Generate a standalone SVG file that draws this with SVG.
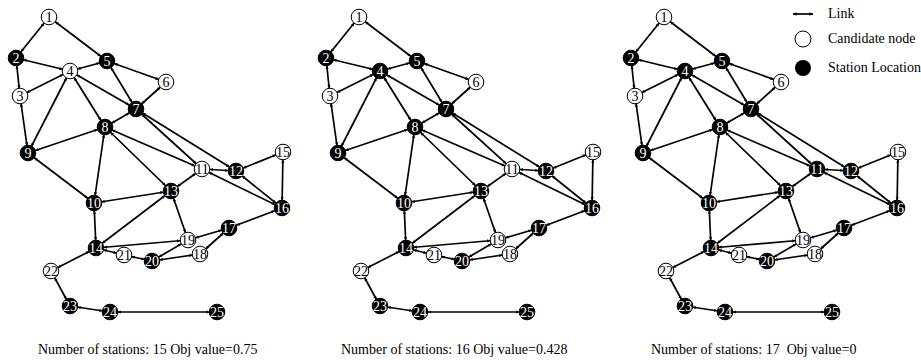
<svg xmlns="http://www.w3.org/2000/svg" width="921" height="360" viewBox="0 0 921 360">
<style>
text{font-family:"Liberation Serif","Times New Roman",serif}
.e line{stroke:#000;stroke-width:1.7;marker-start:url(#ah);marker-end:url(#ah)}
.n text{font-size:14px;text-anchor:middle}
.w circle{fill:#fff;stroke:#000;stroke-width:1}
.w text{fill:#000}
.b circle{fill:#000;stroke:#000;stroke-width:1}
.b text{fill:#fff}
.cap{font-size:14px;fill:#000;white-space:pre}
.leg{font-size:14px;fill:#000}
</style>
<defs>
<marker id="ah" markerUnits="userSpaceOnUse" orient="auto-start-reverse" refX="7.8" refY="0" markerWidth="10" markerHeight="10" overflow="visible"><path d="M-3,-1.6 L0,0 L-3,1.6 z" fill="#000"/></marker>
<marker id="lt" markerUnits="userSpaceOnUse" orient="auto-start-reverse" refX="0" refY="0" markerWidth="10" markerHeight="10" overflow="visible"><path d="M-3.5,-1.8 L0,0 L-3.5,1.8 z" fill="#000"/></marker>
</defs>

<g id="graph1">
<g id="g1-connectors" class="e">
<line x1="49" y1="17" x2="16" y2="58"/><line x1="49" y1="17" x2="107" y2="61"/><line x1="16" y1="58" x2="70" y2="71"/><line x1="16" y1="58" x2="20" y2="96"/><line x1="70" y1="71" x2="107" y2="61"/><line x1="70" y1="71" x2="20" y2="96"/><line x1="70" y1="71" x2="28" y2="153"/><line x1="70" y1="71" x2="105" y2="127"/><line x1="70" y1="71" x2="136" y2="109"/><line x1="107" y1="61" x2="136" y2="109"/><line x1="107" y1="61" x2="166" y2="82"/><line x1="166" y1="82" x2="136" y2="109"/><line x1="20" y1="96" x2="28" y2="153"/><line x1="136" y1="109" x2="105" y2="127"/><line x1="105" y1="127" x2="28" y2="153"/><line x1="136" y1="109" x2="202" y2="169"/><line x1="136" y1="109" x2="236" y2="171"/><line x1="105" y1="127" x2="202" y2="169"/><line x1="105" y1="127" x2="171" y2="191"/><line x1="105" y1="127" x2="94" y2="203"/><line x1="28" y1="153" x2="94" y2="203"/><line x1="202" y1="169" x2="236" y2="171"/><line x1="202" y1="169" x2="171" y2="191"/><line x1="202" y1="169" x2="282" y2="208"/><line x1="236" y1="171" x2="283" y2="152"/><line x1="236" y1="171" x2="282" y2="208"/><line x1="283" y1="152" x2="282" y2="208"/><line x1="94" y1="203" x2="171" y2="191"/><line x1="94" y1="203" x2="96" y2="248"/><line x1="171" y1="191" x2="96" y2="248"/><line x1="171" y1="191" x2="188" y2="240"/><line x1="282" y1="208" x2="229" y2="228"/><line x1="229" y1="228" x2="188" y2="240"/><line x1="229" y1="228" x2="200" y2="254"/><line x1="96" y1="248" x2="188" y2="240"/><line x1="96" y1="248" x2="124" y2="255"/><line x1="124" y1="255" x2="152" y2="261"/><line x1="152" y1="261" x2="188" y2="240"/><line x1="152" y1="261" x2="200" y2="254"/><line x1="96" y1="248" x2="51" y2="271"/><line x1="51" y1="271" x2="70" y2="306"/><line x1="70" y1="306" x2="110" y2="312"/><line x1="110" y1="312" x2="217" y2="312"/>
</g>
<g id="g1-n1" class="n w"><circle cx="49" cy="17" r="7.8"/><text x="49" y="22">1</text></g>
<g id="g1-n2" class="n b"><circle cx="16" cy="58" r="7.8"/><text x="16" y="63">2</text></g>
<g id="g1-n3" class="n w"><circle cx="20" cy="96" r="7.8"/><text x="20" y="101">3</text></g>
<g id="g1-n4" class="n w"><circle cx="70" cy="71" r="7.8"/><text x="70" y="76">4</text></g>
<g id="g1-n5" class="n b"><circle cx="107" cy="61" r="7.8"/><text x="107" y="66">5</text></g>
<g id="g1-n6" class="n w"><circle cx="166" cy="82" r="7.8"/><text x="166" y="87">6</text></g>
<g id="g1-n7" class="n b"><circle cx="136" cy="109" r="7.8"/><text x="136" y="114">7</text></g>
<g id="g1-n8" class="n b"><circle cx="105" cy="127" r="7.8"/><text x="105" y="132">8</text></g>
<g id="g1-n9" class="n b"><circle cx="28" cy="153" r="7.8"/><text x="28" y="158">9</text></g>
<g id="g1-n10" class="n b"><circle cx="94" cy="203" r="7.8"/><text x="94" y="208">10</text></g>
<g id="g1-n11" class="n w"><circle cx="202" cy="169" r="7.8"/><text x="202" y="174">11</text></g>
<g id="g1-n12" class="n b"><circle cx="236" cy="171" r="7.8"/><text x="236" y="176">12</text></g>
<g id="g1-n13" class="n b"><circle cx="171" cy="191" r="7.8"/><text x="171" y="196">13</text></g>
<g id="g1-n14" class="n b"><circle cx="96" cy="248" r="7.8"/><text x="96" y="253">14</text></g>
<g id="g1-n15" class="n w"><circle cx="283" cy="152" r="7.8"/><text x="283" y="157">15</text></g>
<g id="g1-n16" class="n b"><circle cx="282" cy="208" r="7.8"/><text x="282" y="213">16</text></g>
<g id="g1-n17" class="n b"><circle cx="229" cy="228" r="7.8"/><text x="229" y="233">17</text></g>
<g id="g1-n18" class="n w"><circle cx="200" cy="254" r="7.8"/><text x="200" y="259">18</text></g>
<g id="g1-n19" class="n w"><circle cx="188" cy="240" r="7.8"/><text x="188" y="245">19</text></g>
<g id="g1-n20" class="n b"><circle cx="152" cy="261" r="7.8"/><text x="152" y="266">20</text></g>
<g id="g1-n21" class="n w"><circle cx="124" cy="255" r="7.8"/><text x="124" y="260">21</text></g>
<g id="g1-n22" class="n w"><circle cx="51" cy="271" r="7.8"/><text x="51" y="276">22</text></g>
<g id="g1-n23" class="n b"><circle cx="70" cy="306" r="7.8"/><text x="70" y="311">23</text></g>
<g id="g1-n24" class="n b"><circle cx="110" cy="312" r="7.8"/><text x="110" y="317">24</text></g>
<g id="g1-n25" class="n b"><circle cx="217" cy="312" r="7.8"/><text x="217" y="317">25</text></g>
</g>

<g id="graph2" transform="translate(310,0)">
<g id="g2-connectors" class="e">
<line x1="49" y1="17" x2="16" y2="58"/><line x1="49" y1="17" x2="107" y2="61"/><line x1="16" y1="58" x2="70" y2="71"/><line x1="16" y1="58" x2="20" y2="96"/><line x1="70" y1="71" x2="107" y2="61"/><line x1="70" y1="71" x2="20" y2="96"/><line x1="70" y1="71" x2="28" y2="153"/><line x1="70" y1="71" x2="105" y2="127"/><line x1="70" y1="71" x2="136" y2="109"/><line x1="107" y1="61" x2="136" y2="109"/><line x1="107" y1="61" x2="166" y2="82"/><line x1="166" y1="82" x2="136" y2="109"/><line x1="20" y1="96" x2="28" y2="153"/><line x1="136" y1="109" x2="105" y2="127"/><line x1="105" y1="127" x2="28" y2="153"/><line x1="136" y1="109" x2="202" y2="169"/><line x1="136" y1="109" x2="236" y2="171"/><line x1="105" y1="127" x2="202" y2="169"/><line x1="105" y1="127" x2="171" y2="191"/><line x1="105" y1="127" x2="94" y2="203"/><line x1="28" y1="153" x2="94" y2="203"/><line x1="202" y1="169" x2="236" y2="171"/><line x1="202" y1="169" x2="171" y2="191"/><line x1="202" y1="169" x2="282" y2="208"/><line x1="236" y1="171" x2="283" y2="152"/><line x1="236" y1="171" x2="282" y2="208"/><line x1="283" y1="152" x2="282" y2="208"/><line x1="94" y1="203" x2="171" y2="191"/><line x1="94" y1="203" x2="96" y2="248"/><line x1="171" y1="191" x2="96" y2="248"/><line x1="171" y1="191" x2="188" y2="240"/><line x1="282" y1="208" x2="229" y2="228"/><line x1="229" y1="228" x2="188" y2="240"/><line x1="229" y1="228" x2="200" y2="254"/><line x1="96" y1="248" x2="188" y2="240"/><line x1="96" y1="248" x2="124" y2="255"/><line x1="124" y1="255" x2="152" y2="261"/><line x1="152" y1="261" x2="188" y2="240"/><line x1="152" y1="261" x2="200" y2="254"/><line x1="96" y1="248" x2="51" y2="271"/><line x1="51" y1="271" x2="70" y2="306"/><line x1="70" y1="306" x2="110" y2="312"/><line x1="110" y1="312" x2="217" y2="312"/>
</g>
<g id="g2-n1" class="n w"><circle cx="49" cy="17" r="7.8"/><text x="49" y="22">1</text></g>
<g id="g2-n2" class="n b"><circle cx="16" cy="58" r="7.8"/><text x="16" y="63">2</text></g>
<g id="g2-n3" class="n w"><circle cx="20" cy="96" r="7.8"/><text x="20" y="101">3</text></g>
<g id="g2-n4" class="n b"><circle cx="70" cy="71" r="7.8"/><text x="70" y="76">4</text></g>
<g id="g2-n5" class="n b"><circle cx="107" cy="61" r="7.8"/><text x="107" y="66">5</text></g>
<g id="g2-n6" class="n w"><circle cx="166" cy="82" r="7.8"/><text x="166" y="87">6</text></g>
<g id="g2-n7" class="n b"><circle cx="136" cy="109" r="7.8"/><text x="136" y="114">7</text></g>
<g id="g2-n8" class="n b"><circle cx="105" cy="127" r="7.8"/><text x="105" y="132">8</text></g>
<g id="g2-n9" class="n b"><circle cx="28" cy="153" r="7.8"/><text x="28" y="158">9</text></g>
<g id="g2-n10" class="n b"><circle cx="94" cy="203" r="7.8"/><text x="94" y="208">10</text></g>
<g id="g2-n11" class="n w"><circle cx="202" cy="169" r="7.8"/><text x="202" y="174">11</text></g>
<g id="g2-n12" class="n b"><circle cx="236" cy="171" r="7.8"/><text x="236" y="176">12</text></g>
<g id="g2-n13" class="n b"><circle cx="171" cy="191" r="7.8"/><text x="171" y="196">13</text></g>
<g id="g2-n14" class="n b"><circle cx="96" cy="248" r="7.8"/><text x="96" y="253">14</text></g>
<g id="g2-n15" class="n w"><circle cx="283" cy="152" r="7.8"/><text x="283" y="157">15</text></g>
<g id="g2-n16" class="n b"><circle cx="282" cy="208" r="7.8"/><text x="282" y="213">16</text></g>
<g id="g2-n17" class="n b"><circle cx="229" cy="228" r="7.8"/><text x="229" y="233">17</text></g>
<g id="g2-n18" class="n w"><circle cx="200" cy="254" r="7.8"/><text x="200" y="259">18</text></g>
<g id="g2-n19" class="n w"><circle cx="188" cy="240" r="7.8"/><text x="188" y="245">19</text></g>
<g id="g2-n20" class="n b"><circle cx="152" cy="261" r="7.8"/><text x="152" y="266">20</text></g>
<g id="g2-n21" class="n w"><circle cx="124" cy="255" r="7.8"/><text x="124" y="260">21</text></g>
<g id="g2-n22" class="n w"><circle cx="51" cy="271" r="7.8"/><text x="51" y="276">22</text></g>
<g id="g2-n23" class="n b"><circle cx="70" cy="306" r="7.8"/><text x="70" y="311">23</text></g>
<g id="g2-n24" class="n b"><circle cx="110" cy="312" r="7.8"/><text x="110" y="317">24</text></g>
<g id="g2-n25" class="n b"><circle cx="217" cy="312" r="7.8"/><text x="217" y="317">25</text></g>
</g>

<g id="graph3" transform="translate(615,0)">
<g id="g3-connectors" class="e">
<line x1="49" y1="17" x2="16" y2="58"/><line x1="49" y1="17" x2="107" y2="61"/><line x1="16" y1="58" x2="70" y2="71"/><line x1="16" y1="58" x2="20" y2="96"/><line x1="70" y1="71" x2="107" y2="61"/><line x1="70" y1="71" x2="20" y2="96"/><line x1="70" y1="71" x2="28" y2="153"/><line x1="70" y1="71" x2="105" y2="127"/><line x1="70" y1="71" x2="136" y2="109"/><line x1="107" y1="61" x2="136" y2="109"/><line x1="107" y1="61" x2="166" y2="82"/><line x1="166" y1="82" x2="136" y2="109"/><line x1="20" y1="96" x2="28" y2="153"/><line x1="136" y1="109" x2="105" y2="127"/><line x1="105" y1="127" x2="28" y2="153"/><line x1="136" y1="109" x2="202" y2="169"/><line x1="136" y1="109" x2="236" y2="171"/><line x1="105" y1="127" x2="202" y2="169"/><line x1="105" y1="127" x2="171" y2="191"/><line x1="105" y1="127" x2="94" y2="203"/><line x1="28" y1="153" x2="94" y2="203"/><line x1="202" y1="169" x2="236" y2="171"/><line x1="202" y1="169" x2="171" y2="191"/><line x1="202" y1="169" x2="282" y2="208"/><line x1="236" y1="171" x2="283" y2="152"/><line x1="236" y1="171" x2="282" y2="208"/><line x1="283" y1="152" x2="282" y2="208"/><line x1="94" y1="203" x2="171" y2="191"/><line x1="94" y1="203" x2="96" y2="248"/><line x1="171" y1="191" x2="96" y2="248"/><line x1="171" y1="191" x2="188" y2="240"/><line x1="282" y1="208" x2="229" y2="228"/><line x1="229" y1="228" x2="188" y2="240"/><line x1="229" y1="228" x2="200" y2="254"/><line x1="96" y1="248" x2="188" y2="240"/><line x1="96" y1="248" x2="124" y2="255"/><line x1="124" y1="255" x2="152" y2="261"/><line x1="152" y1="261" x2="188" y2="240"/><line x1="152" y1="261" x2="200" y2="254"/><line x1="96" y1="248" x2="51" y2="271"/><line x1="51" y1="271" x2="70" y2="306"/><line x1="70" y1="306" x2="110" y2="312"/><line x1="110" y1="312" x2="217" y2="312"/>
</g>
<g id="g3-n1" class="n w"><circle cx="49" cy="17" r="7.8"/><text x="49" y="22">1</text></g>
<g id="g3-n2" class="n b"><circle cx="16" cy="58" r="7.8"/><text x="16" y="63">2</text></g>
<g id="g3-n3" class="n w"><circle cx="20" cy="96" r="7.8"/><text x="20" y="101">3</text></g>
<g id="g3-n4" class="n b"><circle cx="70" cy="71" r="7.8"/><text x="70" y="76">4</text></g>
<g id="g3-n5" class="n b"><circle cx="107" cy="61" r="7.8"/><text x="107" y="66">5</text></g>
<g id="g3-n6" class="n w"><circle cx="166" cy="82" r="7.8"/><text x="166" y="87">6</text></g>
<g id="g3-n7" class="n b"><circle cx="136" cy="109" r="7.8"/><text x="136" y="114">7</text></g>
<g id="g3-n8" class="n b"><circle cx="105" cy="127" r="7.8"/><text x="105" y="132">8</text></g>
<g id="g3-n9" class="n b"><circle cx="28" cy="153" r="7.8"/><text x="28" y="158">9</text></g>
<g id="g3-n10" class="n b"><circle cx="94" cy="203" r="7.8"/><text x="94" y="208">10</text></g>
<g id="g3-n11" class="n b"><circle cx="202" cy="169" r="7.8"/><text x="202" y="174">11</text></g>
<g id="g3-n12" class="n b"><circle cx="236" cy="171" r="7.8"/><text x="236" y="176">12</text></g>
<g id="g3-n13" class="n b"><circle cx="171" cy="191" r="7.8"/><text x="171" y="196">13</text></g>
<g id="g3-n14" class="n b"><circle cx="96" cy="248" r="7.8"/><text x="96" y="253">14</text></g>
<g id="g3-n15" class="n w"><circle cx="283" cy="152" r="7.8"/><text x="283" y="157">15</text></g>
<g id="g3-n16" class="n b"><circle cx="282" cy="208" r="7.8"/><text x="282" y="213">16</text></g>
<g id="g3-n17" class="n b"><circle cx="229" cy="228" r="7.8"/><text x="229" y="233">17</text></g>
<g id="g3-n18" class="n w"><circle cx="200" cy="254" r="7.8"/><text x="200" y="259">18</text></g>
<g id="g3-n19" class="n w"><circle cx="188" cy="240" r="7.8"/><text x="188" y="245">19</text></g>
<g id="g3-n20" class="n b"><circle cx="152" cy="261" r="7.8"/><text x="152" y="266">20</text></g>
<g id="g3-n21" class="n w"><circle cx="124" cy="255" r="7.8"/><text x="124" y="260">21</text></g>
<g id="g3-n22" class="n w"><circle cx="51" cy="271" r="7.8"/><text x="51" y="276">22</text></g>
<g id="g3-n23" class="n b"><circle cx="70" cy="306" r="7.8"/><text x="70" y="311">23</text></g>
<g id="g3-n24" class="n b"><circle cx="110" cy="312" r="7.8"/><text x="110" y="317">24</text></g>
<g id="g3-n25" class="n b"><circle cx="217" cy="312" r="7.8"/><text x="217" y="317">25</text></g>
</g>

<g id="legend">
<line x1="793" y1="14" x2="813" y2="14" stroke="#000" stroke-width="1.7" marker-start="url(#lt)" marker-end="url(#lt)"/>
<text class="leg" x="828" y="18">Link</text>
<circle cx="803" cy="39" r="8" fill="#fff" stroke="#000" stroke-width="1"/>
<text class="leg" x="828" y="43">Candidate node</text>
<circle cx="803" cy="68" r="8" fill="#000"/>
<text class="leg" x="828" y="72">Station Location</text>
</g>

<g id="captions">
<text class="cap" x="38" y="354">Number of stations: 15 Obj value=0.75</text>
<text class="cap" x="341" y="354">Number of stations: 16 Obj value=0.428</text>
<text class="cap" x="651" y="354">Number of stations: 17  Obj value=0</text>
</g>
</svg>
